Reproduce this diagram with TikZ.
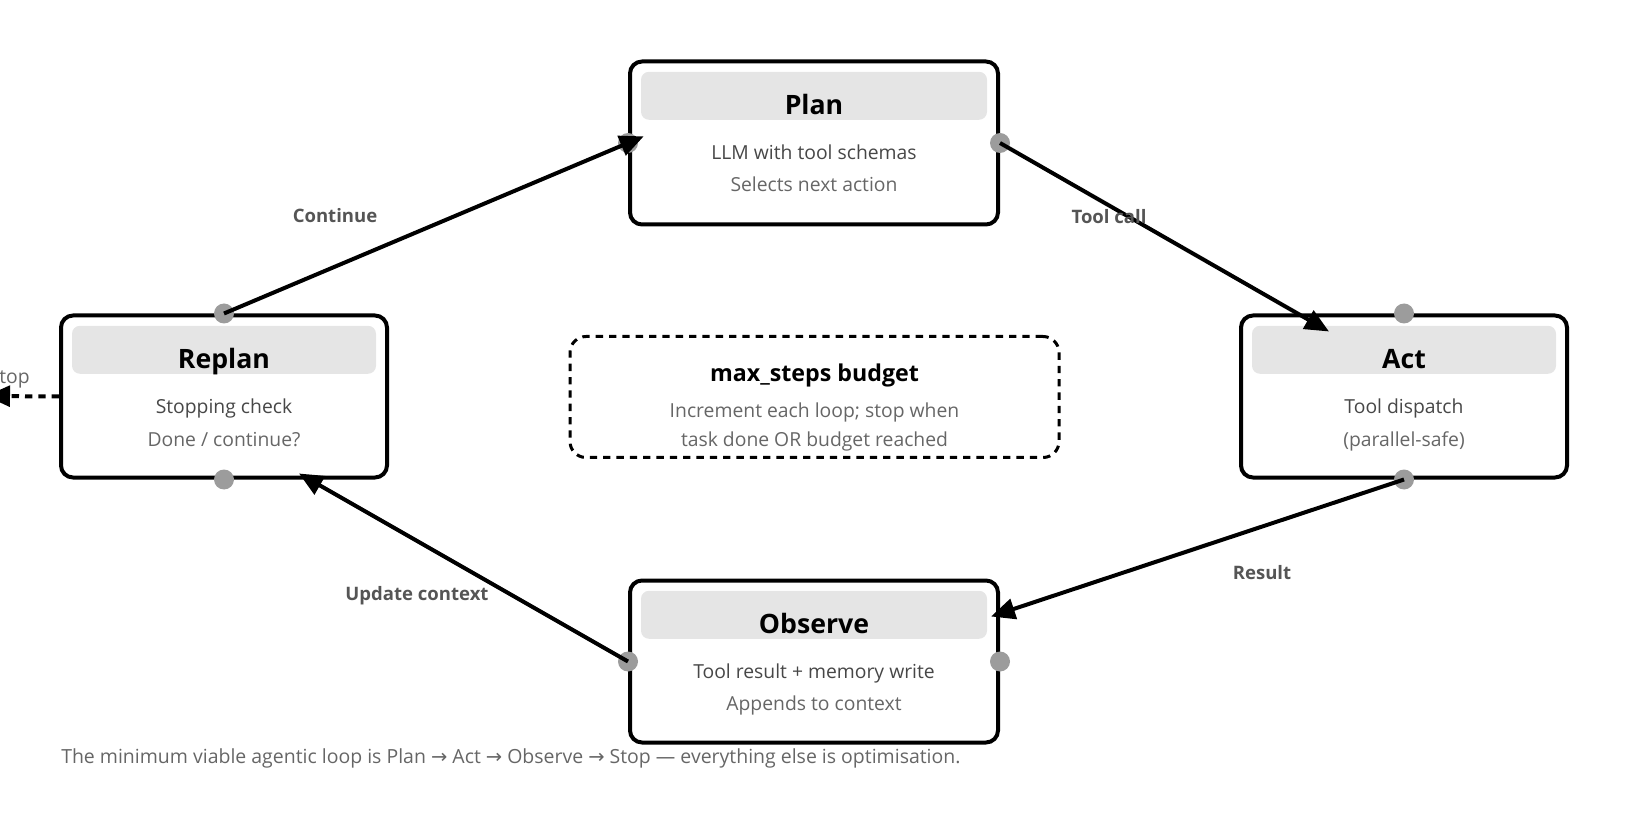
\documentclass[tikz,border=0pt]{standalone}
\usepackage{fontspec}
\setmainfont{Open Sans}
\newfontfamily\arrowfont{DejaVu Sans}
\usetikzlibrary{arrows.meta,calc,positioning}
\definecolor{headgray}{HTML}{E5E5E5}
\definecolor{dotgray}{HTML}{9C9C9C}
\definecolor{textdark}{HTML}{474747}
\definecolor{textmid}{HTML}{666666}
\definecolor{labelgray}{HTML}{555555}

\begin{document}
\begin{tikzpicture}[x=0.75pt, y=-0.75pt,
    stage/.style={draw, line width=3pt, rounded corners=9pt, minimum width=#1,
                  minimum height=121.5pt, inner sep=0pt},
    head/.style={fill=headgray, rounded corners=6pt, minimum width=#1,
                 minimum height=36pt, inner sep=0pt},
    budgetbox/.style={draw, dashed, dash pattern=on 5.5pt off 4.5pt, line width=2.25pt,
                      rounded corners=12pt, minimum width=366.75pt, minimum height=90.75pt},
    title/.style={font=\fontsize{20}{23}\selectfont\bfseries, anchor=base, inner sep=0pt},
    sub/.style={font=\fontsize{14.5}{17}\selectfont, text=textdark, anchor=base, inner sep=0pt},
    subb/.style={sub, text=textmid},
    elabel/.style={font=\fontsize{13.9}{16}\selectfont\bfseries, text=labelgray,
                   anchor=base, inner sep=0pt},
    port/.style={circle, fill=dotgray, minimum size=15pt, inner sep=0pt},
    flow/.style={-{Triangle[length=18pt, width=15.5pt]}, line width=3pt},
  ]
  \useasboundingbox (0,0) rectangle (1628,816);

  % Define nodes
  \node[stage=276pt, minimum height=122.25pt] (plan)    at (814,143)   {};
  \node[stage=244.5pt]                        (replan)  at (224,396.5) {};
  \node[stage=244.5pt]                        (act)     at (1404,396.5) {};
  \node[stage=276pt]                          (observe) at (814,661.5) {};
  \node[budgetbox]                            (budget)  at (814.5,397) {};

  \node[head=259.5pt, below=9pt of plan.north]    (planhead)    {};
  \node[head=228pt, below=9pt of replan.north]    (replanhead)  {};
  \node[head=228pt, below=9pt of act.north]       (acthead)     {};
  \node[head=259.5pt, below=9pt of observe.north] (observehead) {};

  \node[title] (plantitle)    at ($(plan.north)+(0,55)$)    {Plan};
  \node[title] (replantitle)  at ($(replan.north)+(0,55)$)  {Replan};
  \node[title] (acttitle)     at ($(act.north)+(0,55)$)     {Act};
  \node[title] (observetitle) at ($(observe.north)+(0,55)$) {Observe};
  \node[title, font=\fontsize{17.4}{20}\selectfont\bfseries]
               (budgettitle)  at ($(budget.north)+(0,47)$)  {max\_steps budget};

  \node[sub]  (plantxt)     at ($(plan.north)+(0,100)$)    {LLM with tool schemas};
  \node[subb] (plannote)    at ($(plan.north)+(0,132)$)    {Selects next action};
  \node[sub]  (replantxt)   at ($(replan.north)+(0,100)$)  {Stopping check};
  \node[subb] (replannote)  at ($(replan.north)+(0,133)$)  {Done / continue?};
  \node[sub]  (acttxt)      at ($(act.north)+(0,100)$)     {Tool dispatch};
  \node[subb] (actnote)     at ($(act.north)+(0,133)$)     {(parallel-safe)};
  \node[sub]  (observetxt)  at ($(observe.north)+(0,100)$) {Tool result + memory write};
  \node[subb] (observenote) at ($(observe.north)+(0,132)$) {Appends to context};
  \node[subb] (budgettxt)   at ($(budget.north)+(0,83)$)   {Increment each loop; stop when};
  \node[subb] (budgetnote)  at ($(budget.north)+(0,111)$)  {task done OR budget reached};

  % Ports
  \node[port] (planW)   at (plan.west)     {};
  \node[port] (planE)   at (plan.east)     {};
  \node[port] (replanN) at (replan.north)  {};
  \node[port] (replanS) at (replan.south)  {};
  \node[port] (actN)    at (act.north)     {};
  \node[port] (actS)    at (act.south)     {};
  \node[port] (obsW)    at (observe.west)  {};
  \node[port] (obsE)    at (observe.east)  {};

  \coordinate (actin)    at ($(act.north west)+(90,18)$);
  \coordinate (obsin)    at ($(observe.north east)+(-9,38)$);
  \coordinate (replanin) at ($(replan.south)+(75,-6)$);
  \coordinate (stopend)  at (-14,396);

  % Connect the nodes
  \draw[flow, shorten >=-12.75pt] (replan.north) -- (plan.west);
  \draw[flow] (plan.east) -- (actin);
  \draw[flow] (act.south) -- (obsin);
  \draw[flow] (observe.west) -- (replanin);
  \draw[flow, dash pattern=on 5.5pt off 4.5pt] (replan.west) -- (stopend);

  % Labels
  \node[elabel] (lcontinue) at (335,223)  {Continue};
  \node[elabel] (ltoolcall) at (1109,224) {Tool call};
  \node[elabel] (lresult)   at (1262,579) {Result};
  \node[elabel] (lupdate)   at (417,600)  {Update context};
  \node[subb, anchor=base east] (lstop) at (30,384) {Stop};

  \node[subb, anchor=base west, font=\fontsize{14.6}{17}\selectfont] (note) at (61,763)
    {The minimum viable agentic loop is Plan {\arrowfont →} Act {\arrowfont →} Observe {\arrowfont →} Stop — everything else is optimisation.};

\end{tikzpicture}
\end{document}
